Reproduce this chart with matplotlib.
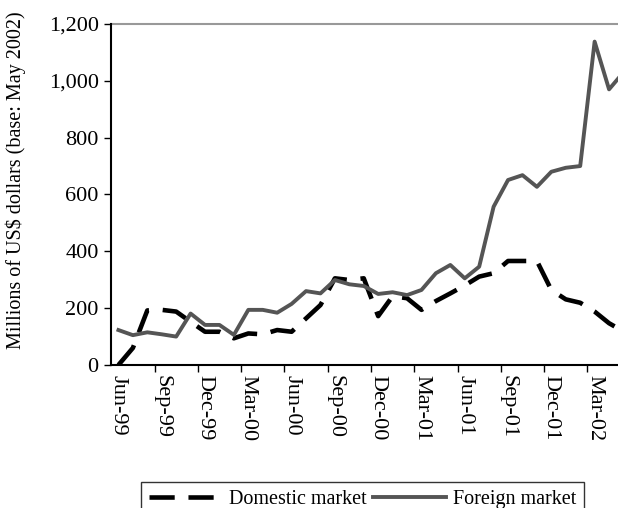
import matplotlib.pyplot as plt
from matplotlib.ticker import FuncFormatter

# monthly series, Jun-99 .. May-02 (millions of US$, base May 2002)
months = ['Jun-99', 'Jul-99', 'Aug-99', 'Sep-99', 'Oct-99', 'Nov-99', 'Dec-99', 'Jan-00',
          'Feb-00', 'Mar-00', 'Apr-00', 'May-00', 'Jun-00', 'Jul-00', 'Aug-00', 'Sep-00',
          'Oct-00', 'Nov-00', 'Dec-00', 'Jan-01', 'Feb-01', 'Mar-01', 'Apr-01', 'May-01',
          'Jun-01', 'Jul-01', 'Aug-01', 'Sep-01', 'Oct-01', 'Nov-01', 'Dec-01', 'Jan-02',
          'Feb-02', 'Mar-02', 'Apr-02', 'May-02']
domestic = [0, 60, 192, 194, 188, 152, 117, 117, 94, 111, 108, 123,
            117, 164, 211, 305, 299, 305, 172, 242, 235, 194, 225, 252,
            280, 311, 323, 366, 366, 366, 264, 231, 219, 188, 147, 118]
foreign = [123, 105, 115, 108, 100, 181, 141, 141, 106, 194, 194, 184,
           215, 260, 252, 299, 284, 278, 250, 256, 246, 264, 323, 352,
           305, 346, 557, 651, 668, 627, 680, 694, 700, 1138, 970, 1030]

plt.rcParams['font.family'] = ['Liberation Serif', 'DejaVu Serif']

fig = plt.figure(figsize=(6.18, 5.08), dpi=100)
ax = fig.add_axes([0.18, 0.2815, 0.82, 0.6713])

x = list(range(len(months)))
ax.plot(x, domestic, color='black', linewidth=3.3, dashes=(5.5, 3.0),
        solid_capstyle='butt', dash_capstyle='butt', label='Domestic market')
ax.plot(x, foreign, color='#555555', linewidth=2.8, label='Foreign market')

ax.set_ylim(0, 1200)
ax.set_xlim(-0.5, 34.62)
ax.set_yticks(range(0, 1201, 200))
ax.yaxis.set_major_formatter(FuncFormatter(lambda v, p: f'{int(v):,}'))
ax.axhline(1200, color='#999999', linewidth=1.5, clip_on=False)

# tick marks between category groups, labels on every third month
ax.set_xticks([i - 0.5 for i in range(3, 36, 3)])
ax.set_xticklabels([])
ax.set_xticks(x[::3], minor=True)
ax.set_xticklabels(months[::3], minor=True, rotation=270, fontsize=16)
ax.tick_params(axis='x', which='minor', length=0, pad=7)
ax.tick_params(axis='x', which='major', length=5, width=1, direction='out')
ax.tick_params(axis='y', length=5, width=1, direction='out', labelsize=16, pad=4)

for side in ['top', 'right']:
    ax.spines[side].set_visible(False)
ax.spines['left'].set_linewidth(1.5)
ax.spines['bottom'].set_linewidth(1.5)

ax.set_ylabel('Millions of US$ dollars (base: May 2002)', fontsize=14.5)
ax.yaxis.set_label_coords(-0.168, 0.5425)

leg = fig.legend(loc='lower left', bbox_to_anchor=(0.212, -0.038), ncol=2,
                 fontsize=14.5, frameon=True, fancybox=False, handlelength=3.6,
                 columnspacing=0.35, handletextpad=0.35, borderpad=0.4)
leg.get_frame().set_edgecolor('black')
leg.get_frame().set_linewidth(1.0)

fig.savefig('out.png', dpi=100)
